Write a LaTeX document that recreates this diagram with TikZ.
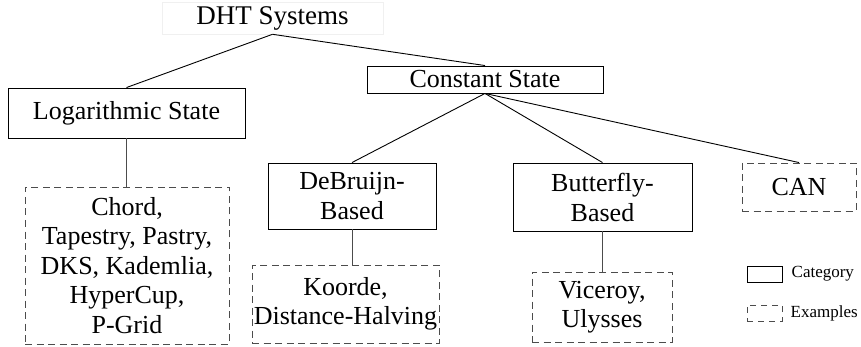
\documentclass[tikz,border=0pt]{standalone}
\usepackage{fontspec}
\setmainfont{Liberation Serif}
\usetikzlibrary{positioning}

\begin{document}
\begin{tikzpicture}[
        x=1pt, y=-1pt,
        category/.style={rectangle, draw=black, line width=0.9pt, inner sep=0pt, align=center, font=\fontsize{26}{30}\selectfont},
        examples/.style={rectangle, draw=black!70, dash pattern=on 7pt off 4.5pt, line width=0.9pt, inner sep=0pt, align=center, font=\fontsize{26}{29.5}\selectfont},
        link/.style={line width=0.9pt, black},
        sublink/.style={line width=0.9pt, black!70},
        keytext/.style={font=\fontsize{17}{20}\selectfont, inner sep=0pt, anchor=west}
    ]
        \useasboundingbox (0,0) rectangle (861,347);

        % Root
        \node[rectangle, draw=black!6, line width=0.6pt, minimum width=221pt, minimum height=32pt, inner sep=0pt, font=\fontsize{27}{30}\selectfont] (dht) at (272.5,18) {DHT Systems};

        % Categories
        \node[category, minimum width=237pt, minimum height=50pt] (log) at (126.5,113) {Logarithmic State};
        \node[category, minimum width=236pt, minimum height=27pt] (const) at (485,79.5) {Constant State};
        \node[category, minimum width=168pt, minimum height=66pt] (debruijn) at (352,196) {DeBruijn-\\Based};
        \node[category, minimum width=179pt, minimum height=68pt] (butterfly) at (602.5,197) {Butterfly-\\Based};

        % Examples
        \node[examples, minimum width=204pt, minimum height=157pt] (logex) at (127,265.5) {Chord,\\Tapestry, Pastry,\\DKS, Kademlia,\\HyperCup,\\P-Grid};
        \node[examples, minimum width=114pt, minimum height=48pt] (can) at (799,187) {CAN};
        \node[examples, minimum width=187pt, minimum height=78pt] (koorde) at (345.5,304) {Koorde,\\Distance-Halving};
        \node[examples, minimum width=140pt, minimum height=70pt] (viceroy) at (602,307) {Viceroy,\\Ulysses};

        % Tree
        \draw[link] (dht.south) -- (log.north);
        \draw[link] (dht.south) -- (const.north);
        \draw[link] (const.south) -- (debruijn.north);
        \draw[link] (const.south) -- (butterfly.north);
        \draw[link] (const.south) -- (can.north);

        \draw[sublink] (log.south) -- (log.south |- logex.north);
        \draw[sublink] (debruijn.south) -- (debruijn.south |- koorde.north);
        \draw[sublink] (butterfly.south) -- (butterfly.south |- viceroy.north);

        % Legend
        \node[category, minimum width=35pt, minimum height=16pt] (keycat) at (764.5,274) {};
        \node[examples, dash pattern=on 6pt off 5pt, minimum width=35pt, minimum height=16pt] (keyex) at (764.5,313) {};
        \node[keytext, right=9pt of keycat] (keycattext) {Category};
        \node[keytext, right=8pt of keyex] (keyextext) {Examples};

    \end{tikzpicture}
\end{document}
